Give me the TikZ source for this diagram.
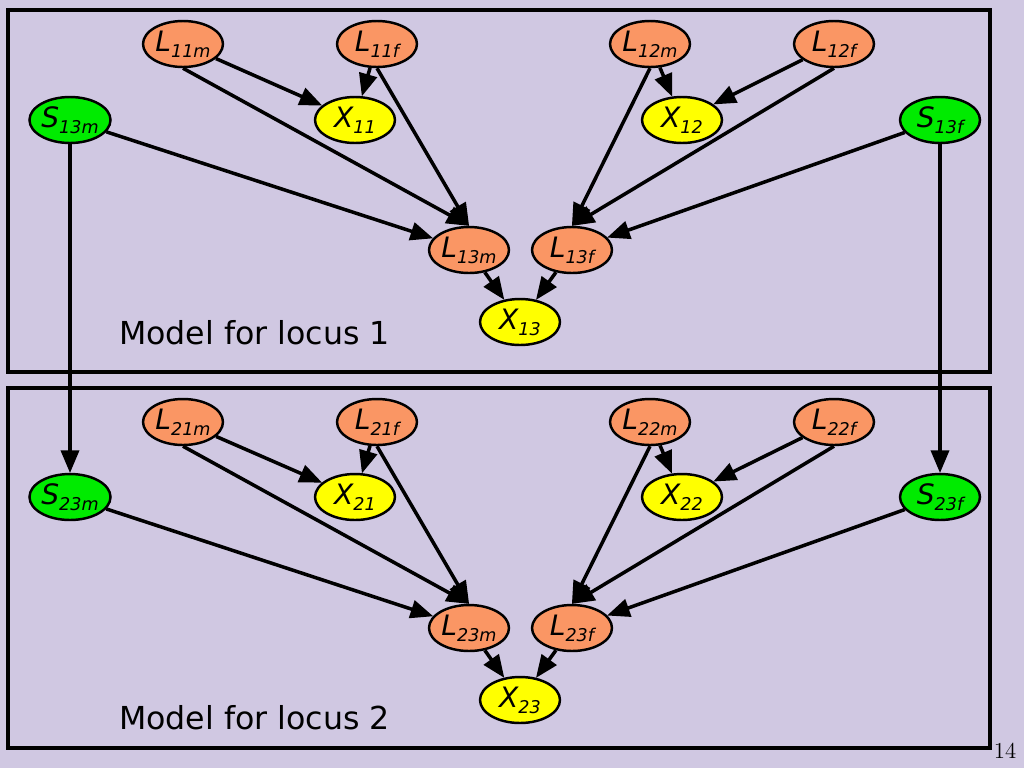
\documentclass[tikz,border=0pt]{standalone}
\usepackage{fontspec}
\setsansfont{DejaVu Sans}
\usetikzlibrary{positioning}
\usetikzlibrary{shapes.geometric}
\usetikzlibrary{arrows}
\definecolor{lav}{RGB}{208,200,226}
\definecolor{salmon}{RGB}{250,150,100}
\definecolor{yel}{RGB}{255,255,0}
\definecolor{grn}{RGB}{0,235,0}
\tikzset{>=triangle 45}
\tikzset{vert/.style={draw,ellipse,line width=1.4pt,inner sep=0pt,minimum width=1.6cm,minimum height=0.92cm,font=\sffamily\itshape\fontsize{16}{17}\selectfont}}
\tikzset{lnode/.style={vert,fill=salmon}}
\tikzset{xnode/.style={vert,fill=yel}}
\tikzset{snode/.style={vert,fill=grn}}
\tikzset{ed/.style={->,line width=2pt}}
\tikzset{panel/.style={draw,line width=2pt}}
\newcommand{\lab}[2]{#1\raisebox{-0.4ex}{\fontsize{10}{11}\selectfont #2}}

\begin{document}
\begin{tikzpicture}[x=0.02cm,y=-0.02cm]
\fill[lav] (0,0) rectangle (1024,768);
\node[panel,minimum width=19.64cm,minimum height=7.24cm,inner sep=0pt] (box1) at (499,191) {};
\node[panel,minimum width=19.64cm,minimum height=7.2cm,inner sep=0pt] (box2) at (499,568) {};

% locus 1
\node[lnode] (l11m) at (183,44) {\lab{L}{11m}};
\node[lnode] (l11f) at (377,44) {\lab{L}{11f}};
\node[lnode] (l12m) at (650,44) {\lab{L}{12m}};
\node[lnode] (l12f) at (834,44) {\lab{L}{12f}};
\node[xnode] (x11) at (355,120) {\lab{X}{11}};
\node[xnode] (x12) at (682,120) {\lab{X}{12}};
\node[snode] (s13m) at (70,120) {\lab{S}{13m}};
\node[snode] (s13f) at (940,120) {\lab{S}{13f}};
\node[lnode] (l13m) at (469,250) {\lab{L}{13m}};
\node[lnode] (l13f) at (572,250) {\lab{L}{13f}};
\node[xnode] (x13) at (520,322) {\lab{X}{13}};
\node[font=\sffamily\fontsize{18}{22}\selectfont,anchor=west] (t1) at (113,333) {Model for locus 1};

% locus 2
\node[lnode] (l21m) at (183,422) {\lab{L}{21m}};
\node[lnode] (l21f) at (377,422) {\lab{L}{21f}};
\node[lnode] (l22m) at (650,422) {\lab{L}{22m}};
\node[lnode] (l22f) at (834,422) {\lab{L}{22f}};
\node[xnode] (x21) at (355,497) {\lab{X}{21}};
\node[xnode] (x22) at (682,497) {\lab{X}{22}};
\node[snode] (s23m) at (70,497) {\lab{S}{23m}};
\node[snode] (s23f) at (940,497) {\lab{S}{23f}};
\node[lnode] (l23m) at (469,628) {\lab{L}{23m}};
\node[lnode] (l23f) at (572,628) {\lab{L}{23f}};
\node[xnode] (x23) at (520,700) {\lab{X}{23}};
\node[font=\sffamily\fontsize{18}{22}\selectfont,anchor=west] (t2) at (113,718) {Model for locus 2};

\node[font=\fontsize{13}{14}\selectfont] (pg) at (1005,751) {14};

\foreach \a in {1,2}{
\draw[ed] (l\a1m) -- (x\a1);
\draw[ed] (l\a1f) -- (x\a1);
\draw[ed] (l\a2m) -- (x\a2);
\draw[ed] (l\a2f) -- (x\a2);
\draw[ed] (l\a1m.south) -- (l\a3m.north);
\draw[ed] (l\a1f.south) -- (l\a3m.north);
\draw[ed] (s\a3m) -- (l\a3m);
\draw[ed] (l\a2m.south) -- (l\a3f.north);
\draw[ed] (l\a2f.south) -- (l\a3f.north);
\draw[ed] (s\a3f) -- (l\a3f);
\draw[ed] (l\a3m) -- (x\a3);
\draw[ed] (l\a3f) -- (x\a3);
}

\draw[ed] (s13m) -- (s23m);
\draw[ed] (s13f) -- (s23f);
\end{tikzpicture}
\end{document}
